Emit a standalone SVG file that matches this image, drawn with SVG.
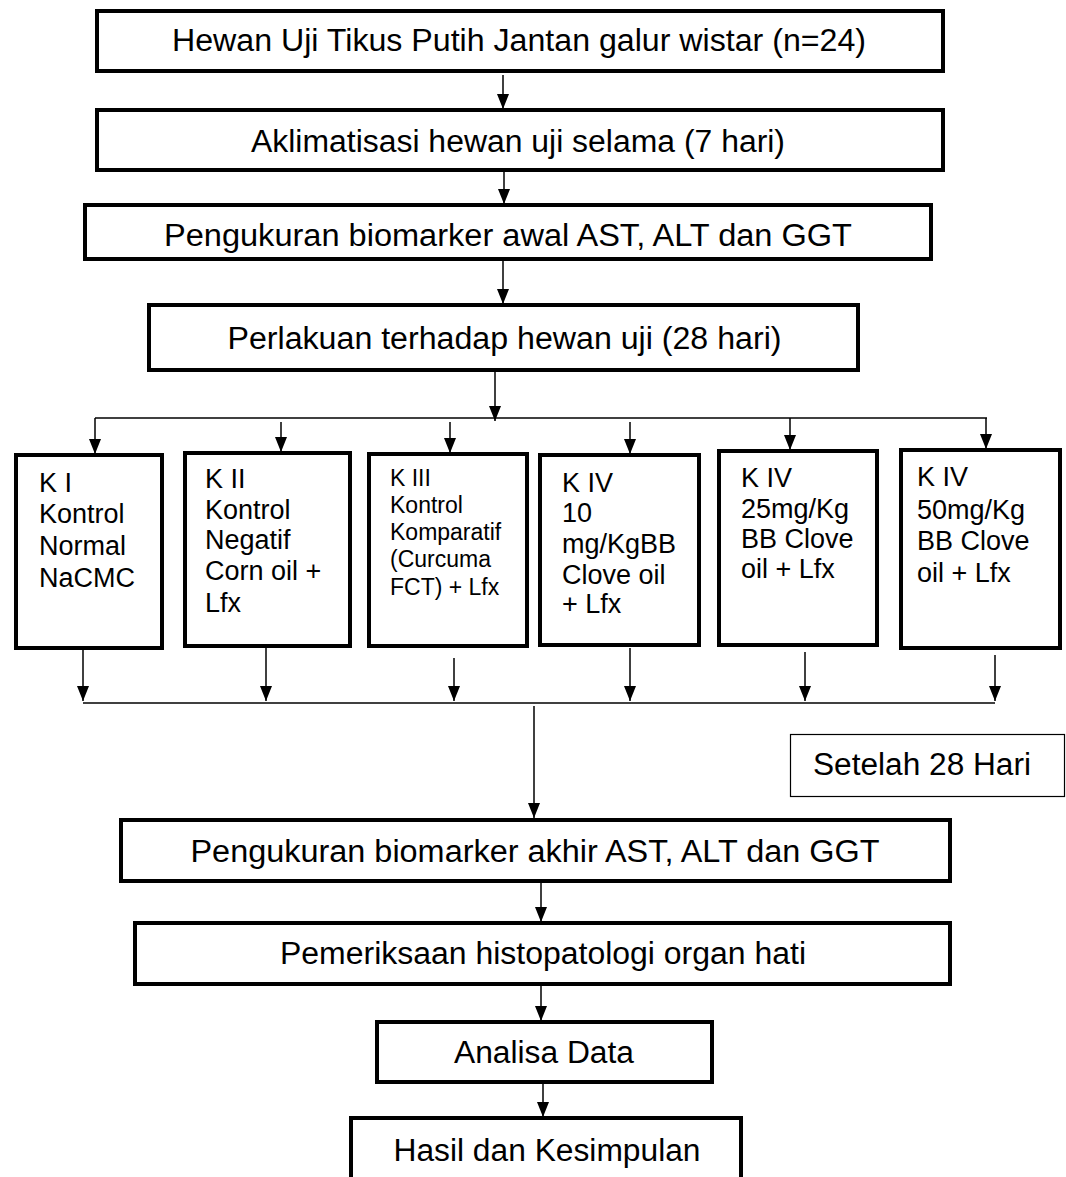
<svg xmlns="http://www.w3.org/2000/svg" width="1066" height="1177" viewBox="0 0 1066 1177">
<style>
.box{fill:#fff;stroke:#000;stroke-width:4}
.thin{fill:#fff;stroke:#000;stroke-width:1.2}
.main{font-family:"Liberation Sans",Arial,sans-serif;font-size:31px;fill:#000;text-anchor:middle}
.k{font-family:"Liberation Sans",Arial,sans-serif;font-size:27px;fill:#000}
.k3{font-family:"Liberation Sans",Arial,sans-serif;font-size:23px;fill:#000}
.c{fill:none;stroke:#000;stroke-width:1.5}
.a{fill:none;stroke:#000;stroke-width:1.5;marker-end:url(#ah)}
</style>
<defs>
<marker id="ah" markerUnits="userSpaceOnUse" markerWidth="15" markerHeight="12" viewBox="0 0 15 12" refX="15" refY="6" orient="auto">
<path d="M0,0 L15,6 L0,12 z" fill="#000"/>
</marker>
</defs>
<rect width="1066" height="1177" fill="#fff"/>

<g id="connectors">
<line class="a" x1="503" y1="75" x2="503" y2="109"/>
<line class="a" x1="504" y1="172" x2="504" y2="204"/>
<line class="a" x1="503" y1="261" x2="503" y2="304"/>
<line class="a" x1="495" y1="372" x2="495" y2="421"/>
<line class="c" x1="95" y1="418" x2="987" y2="418"/>
<line class="a" x1="95" y1="418" x2="95" y2="454"/>
<line class="a" x1="281" y1="422" x2="281" y2="452"/>
<line class="a" x1="450" y1="422" x2="450" y2="453"/>
<line class="a" x1="630" y1="422" x2="630" y2="454"/>
<line class="a" x1="790" y1="418" x2="790" y2="450"/>
<line class="a" x1="986" y1="418" x2="986" y2="449"/>
<line class="a" x1="83" y1="646" x2="83" y2="701"/>
<line class="a" x1="266" y1="648" x2="266" y2="701"/>
<line class="a" x1="454" y1="658" x2="454" y2="701"/>
<line class="a" x1="630" y1="648" x2="630" y2="701"/>
<line class="a" x1="805" y1="652" x2="805" y2="701"/>
<line class="a" x1="995" y1="655" x2="995" y2="701"/>
<line class="c" x1="83" y1="703" x2="995" y2="703"/>
<line class="a" x1="534" y1="706" x2="534" y2="818"/>
<line class="a" x1="541" y1="883" x2="541" y2="922"/>
<line class="a" x1="541" y1="986" x2="541" y2="1021"/>
<line class="a" x1="543" y1="1084" x2="543" y2="1117"/>
</g>

<g id="n1"><rect class="box" x="97" y="11" width="846" height="60"/>
<text class="main" x="519" y="51" textLength="694" lengthAdjust="spacingAndGlyphs">Hewan Uji Tikus Putih Jantan galur wistar (n=24)</text></g>
<g id="n2"><rect class="box" x="97" y="110" width="846" height="60"/>
<text class="main" x="518" y="152" textLength="534" lengthAdjust="spacingAndGlyphs">Aklimatisasi hewan uji selama (7 hari)</text></g>
<g id="n3"><rect class="box" x="85" y="205" width="846" height="54"/>
<text class="main" x="508" y="246" textLength="688" lengthAdjust="spacingAndGlyphs">Pengukuran biomarker awal AST, ALT dan GGT</text></g>
<g id="n4"><rect class="box" x="149" y="305" width="709" height="65"/>
<text class="main" x="504.5" y="349" textLength="554" lengthAdjust="spacingAndGlyphs">Perlakuan terhadap hewan uji (28 hari)</text></g>

<g id="k1"><rect class="box" x="16" y="455" width="146" height="193"/>
<text class="k"><tspan x="39" y="492">K I</tspan><tspan x="39" y="523">Kontrol</tspan><tspan x="39" y="555">Normal</tspan><tspan x="39" y="587">NaCMC</tspan></text></g>
<g id="k2"><rect class="box" x="185" y="453" width="165" height="193"/>
<text class="k"><tspan x="205" y="488">K II</tspan><tspan x="205" y="519">Kontrol</tspan><tspan x="205" y="549">Negatif</tspan><tspan x="205" y="580">Corn oil +</tspan><tspan x="205" y="612">Lfx</tspan></text></g>
<g id="k3"><rect class="box" x="369" y="454" width="158" height="192"/>
<text class="k3"><tspan x="390" y="486">K III</tspan><tspan x="390" y="513">Kontrol</tspan><tspan x="390" y="540">Komparatif</tspan><tspan x="390" y="567">(Curcuma</tspan><tspan x="390" y="595">FCT) + Lfx</tspan></text></g>
<g id="k4"><rect class="box" x="540" y="455" width="159" height="190"/>
<text class="k"><tspan x="562" y="492">K IV</tspan><tspan x="562" y="522">10</tspan><tspan x="562" y="553">mg/KgBB</tspan><tspan x="562" y="584">Clove oil</tspan><tspan x="562" y="613">+ Lfx</tspan></text></g>
<g id="k5"><rect class="box" x="719" y="451" width="158" height="194"/>
<text class="k"><tspan x="741" y="487">K IV</tspan><tspan x="741" y="518">25mg/Kg</tspan><tspan x="741" y="548">BB Clove</tspan><tspan x="741" y="578">oil + Lfx</tspan></text></g>
<g id="k6"><rect class="box" x="901" y="450" width="159" height="198"/>
<text class="k"><tspan x="917" y="486">K IV</tspan><tspan x="917" y="519">50mg/Kg</tspan><tspan x="917" y="550">BB Clove</tspan><tspan x="917" y="582">oil + Lfx</tspan></text></g>

<g id="label28"><rect class="thin" x="790.5" y="734.5" width="274" height="62"/>
<text class="main" x="922" y="775" style="font-size:31px" textLength="218" lengthAdjust="spacingAndGlyphs">Setelah 28 Hari</text></g>

<g id="n5"><rect class="box" x="121" y="820" width="829" height="61"/>
<text class="main" x="535" y="862" textLength="689" lengthAdjust="spacingAndGlyphs">Pengukuran biomarker akhir AST, ALT dan GGT</text></g>
<g id="n6"><rect class="box" x="135" y="923" width="815" height="61"/>
<text class="main" x="543" y="964" textLength="526" lengthAdjust="spacingAndGlyphs">Pemeriksaan histopatologi organ hati</text></g>
<g id="n7"><rect class="box" x="377" y="1022" width="335" height="60"/>
<text class="main" x="544" y="1063" textLength="180" lengthAdjust="spacingAndGlyphs">Analisa Data</text></g>
<g id="n8"><rect class="box" x="351" y="1118" width="390" height="80"/>
<text class="main" x="547" y="1161" textLength="307" lengthAdjust="spacingAndGlyphs">Hasil dan Kesimpulan</text></g>
</svg>
